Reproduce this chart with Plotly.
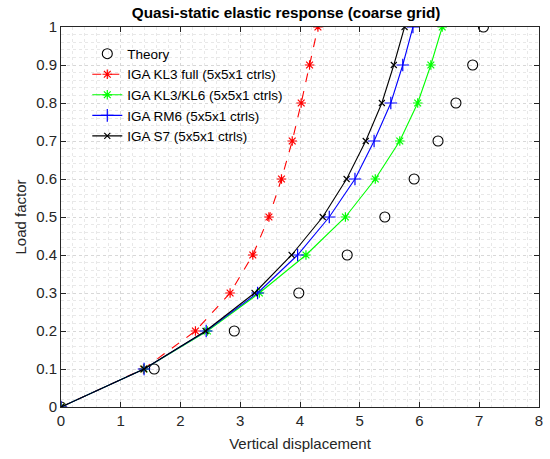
import plotly.graph_objects as go

load = [0, 0.1, 0.2, 0.3, 0.4, 0.5, 0.6, 0.7, 0.8, 0.9, 1.0]
theory = [0, 1.56, 2.90, 3.98, 4.79, 5.42, 5.91, 6.31, 6.61, 6.89, 7.07]
kl3_full = [0, 1.38, 2.25, 2.83, 3.21, 3.48, 3.69, 3.87, 4.02, 4.16, 4.30]
kl3_kl6 = [0, 1.39, 2.45, 3.32, 4.10, 4.76, 5.26, 5.67, 5.97, 6.19, 6.38]
rm6 = [0, 1.39, 2.43, 3.29, 3.96, 4.49, 4.92, 5.24, 5.52, 5.72, 5.89]
s7 = [0, 1.39, 2.42, 3.24, 3.86, 4.38, 4.78, 5.10, 5.37, 5.57, 5.75]

names = ["Theory", "IGA KL3 full (5x5x1 ctrls)", "IGA KL3/KL6 (5x5x1 ctrls)",
         "IGA RM6 (5x5x1 ctrls)", "IGA S7 (5x5x1 ctrls)"]

font = "Liberation Sans, Arial, Helvetica, sans-serif"
fig = go.Figure()
fig.add_trace(go.Scatter(x=theory, y=load, mode="markers", name=names[0],
                         marker=dict(symbol="circle-open", size=10, color="black",
                                     line=dict(width=1.1, color="black"))))
fig.add_trace(go.Scatter(x=kl3_full, y=load, mode="lines+markers", name=names[1],
                         line=dict(color="#ff0000", width=1.1, dash="dash"),
                         marker=dict(symbol="asterisk-open", size=8,
                                     line=dict(width=1.2, color="#ff0000"))))
fig.add_trace(go.Scatter(x=kl3_kl6, y=load, mode="lines+markers", name=names[2],
                         line=dict(color="#00ff00", width=1.1),
                         marker=dict(symbol="asterisk-open", size=8,
                                     line=dict(width=1.2, color="#00ff00"))))
fig.add_trace(go.Scatter(x=rm6, y=load, mode="lines+markers", name=names[3],
                         line=dict(color="#0000ff", width=1.1),
                         marker=dict(symbol="cross-thin-open", size=9,
                                     line=dict(width=1.2, color="#0000ff"))))
fig.add_trace(go.Scatter(x=s7, y=load, mode="lines+markers", name=names[4],
                         line=dict(color="black", width=1.1),
                         marker=dict(symbol="x-thin-open", size=6,
                                     line=dict(width=1.1, color="black"))))

axis_common = dict(
    showline=True, linecolor="#262626", linewidth=1, mirror="ticks",
    ticks="inside", ticklen=5, tickcolor="#262626",
    showgrid=True, gridcolor="#d8d8d8", griddash="dot", gridwidth=1,
    zeroline=False, tickfont=dict(family=font, size=15, color="#262626"),
)
minor_style = dict(showgrid=True, gridcolor="#e8e8e8", griddash="dot", gridwidth=1)
fig.update_xaxes(range=[0, 8], dtick=1, **axis_common,
                 minor=dict(dtick=0.2, **minor_style),
                 title=dict(text="Vertical displacement", font=dict(family=font, size=15, color="#262626"), standoff=10))
fig.update_yaxes(range=[0, 1], dtick=0.1, **axis_common,
                 minor=dict(dtick=0.02, **minor_style),
                 title=dict(text="Load factor", font=dict(family=font, size=15, color="#262626"), standoff=5))

fig.update_layout(
    width=550, height=459,
    margin=dict(l=61, r=7, t=27, b=52),
    plot_bgcolor="white", paper_bgcolor="white",
    title=dict(text="<b>Quasi-static elastic response (coarse grid)</b>",
               x=0.471, xref="paper", xanchor="center", y=0.973, yanchor="middle",
               font=dict(family=font, size=15.3, color="black")),
    legend=dict(x=0.055, y=0.97, xanchor="left", yanchor="top",
                bgcolor="rgba(255,255,255,0)", borderwidth=0,
                font=dict(family=font, size=13.5, color="black"),
                tracegroupgap=0, itemwidth=30),
    showlegend=True,
)

fig.write_html("out.html")
